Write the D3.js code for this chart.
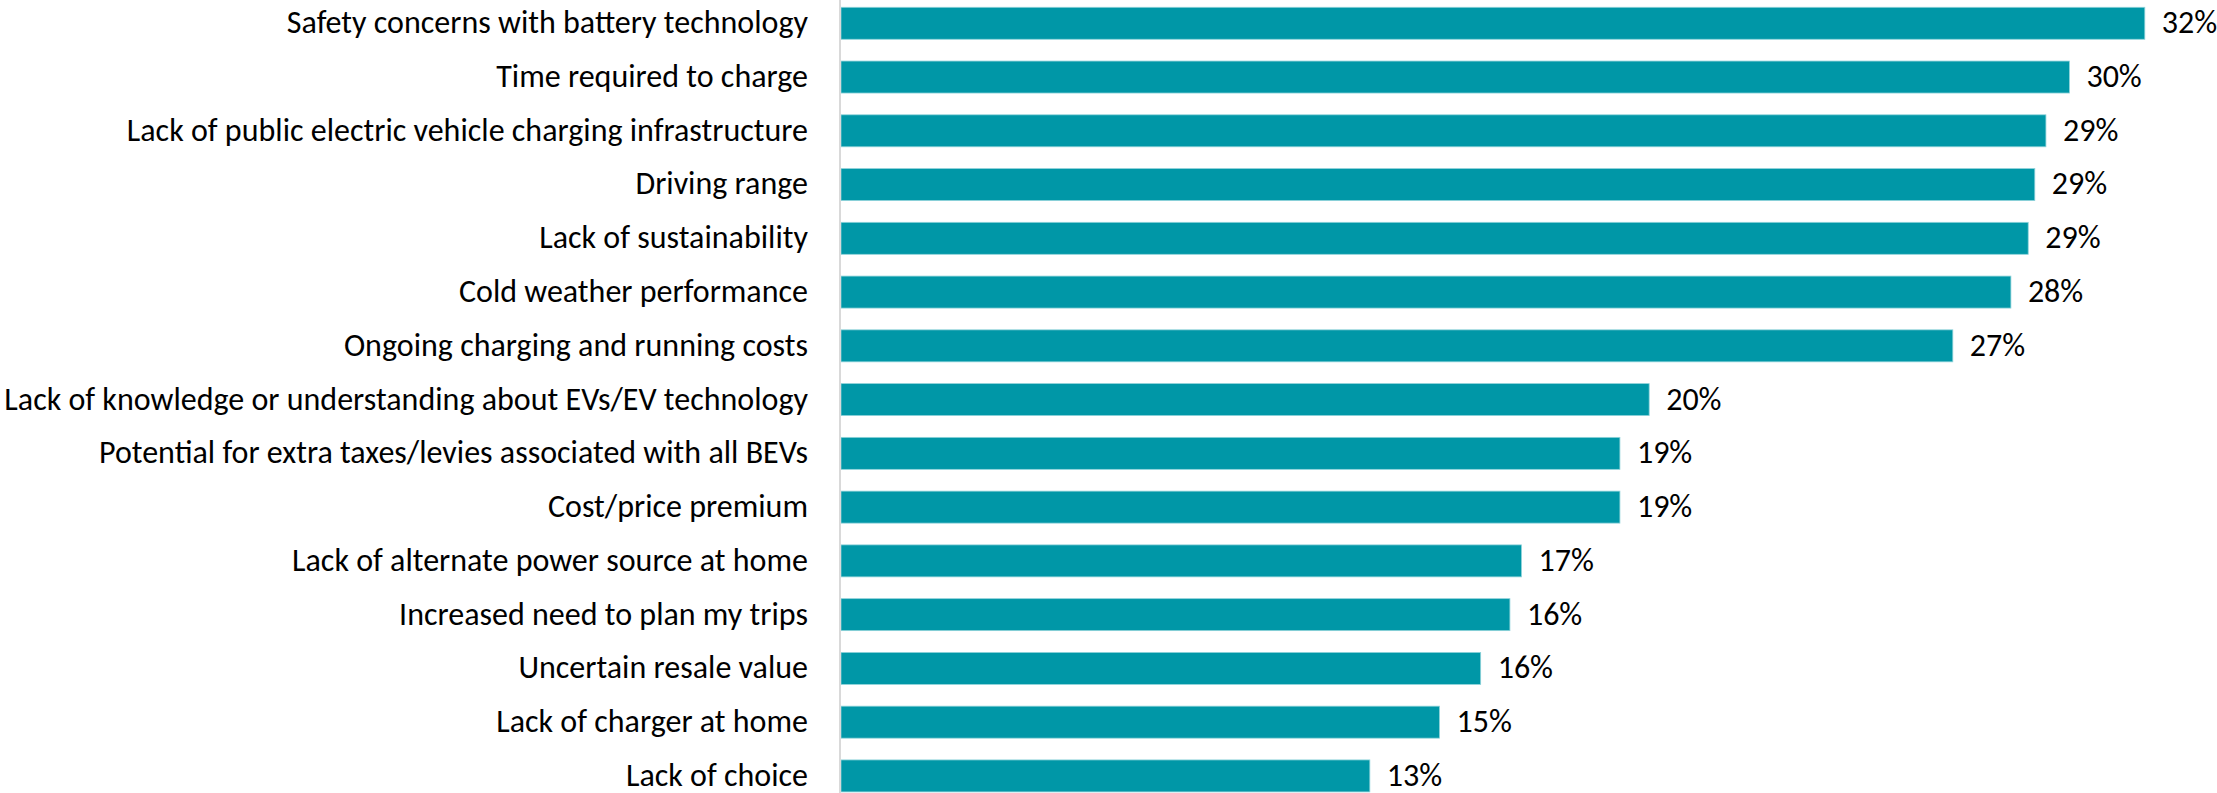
<!DOCTYPE html>
<html>
<head>
<meta charset="utf-8">
<script src="https://cdn.jsdelivr.net/npm/d3@7/dist/d3.min.js"></script>
<style>
  html, body { margin: 0; padding: 0; background: #fff; }
  svg { display: block; }
  text { font-family: Carlito, Calibri, "Liberation Sans Narrow", Roboto, sans-serif; fill: #000; }
</style>
</head>
<body>
<svg id="chart" width="2217" height="793"></svg>
<script>
// Reasons cited as barriers to buying an electric vehicle (share of respondents)
const categories = [
  "Safety concerns with battery technology",
  "Time required to charge",
  "Lack of public electric vehicle charging infrastructure",
  "Driving range",
  "Lack of sustainability",
  "Cold weather performance",
  "Ongoing charging and running costs",
  "Lack of knowledge or understanding about EVs/EV technology",
  "Potential for extra taxes/levies associated with all BEVs",
  "Cost/price premium",
  "Lack of alternate power source at home",
  "Increased need to plan my trips",
  "Uncertain resale value",
  "Lack of charger at home",
  "Lack of choice"
];
const values = [
  0.3167, 0.2984, 0.2927, 0.2900, 0.2884, 0.2842, 0.2701,
  0.1964, 0.1893, 0.1893, 0.1654, 0.1626, 0.1555, 0.1455, 0.1286
];
const xDomain = [0, 0.35];

const W = 2217, H = 793;
const axisX = 840;
const pxPerUnit = 4120;           // pixels per 100%
const svg = d3.select("#chart");

const x = d3.scaleLinear()
  .domain(xDomain)
  .range([axisX, axisX + (xDomain[1] - xDomain[0]) * pxPerUnit]);

const gap = 0.405;
const y = d3.scaleBand()
  .domain(categories)
  .range([-3.6, 802.8])
  .paddingInner(gap)
  .paddingOuter(gap / 2);

const data = categories.map((c, i) => ({ c, v: values[i] }));
const fmt = d3.format(".0%");

// fit label size so the longest category spans the label column
const labelRight = 808;
const probe = svg.append("text").attr("font-size", 30)
  .text(categories.reduce((a, b) => (a.length > b.length ? a : b)));
const probeW = probe.node().getComputedTextLength();
probe.remove();
const fontSize = Math.min(33, 30 * 804 / probeW);
const textDy = "0.31em";

// bars
svg.append("g")
  .selectAll("rect")
  .data(data)
  .join("rect")
  .attr("x", x(0) + 1)
  .attr("y", d => y(d.c))
  .attr("width", d => x(d.v) - x(0) - 1)
  .attr("height", y.bandwidth())
  .attr("fill", "#0097a7")
  .attr("stroke", "#8fd3da")
  .attr("stroke-width", 0.8);

// category axis (labels only)
const yAxis = d3.axisLeft(y).tickSize(0).tickPadding(axisX - labelRight);
const gy = svg.append("g")
  .attr("transform", `translate(${axisX},0)`)
  .call(yAxis);
gy.select(".domain").remove();
gy.attr("font-family", null).attr("font-size", null);
gy.selectAll("text")
  .attr("font-size", fontSize)
  .attr("dy", textDy)
  .attr("fill", "#000");

// light vertical baseline
svg.append("line")
  .attr("x1", axisX).attr("x2", axisX)
  .attr("y1", 0).attr("y2", H)
  .attr("stroke", "#d9d9d9")
  .attr("stroke-width", 2);

// value labels
svg.append("g")
  .selectAll("text")
  .data(data)
  .join("text")
  .attr("x", d => x(d.v) + 17)
  .attr("y", d => y(d.c) + y.bandwidth() / 2)
  .attr("dy", textDy)
  .attr("font-size", fontSize)
  .text(d => fmt(d.v));
</script>
</body>
</html>
